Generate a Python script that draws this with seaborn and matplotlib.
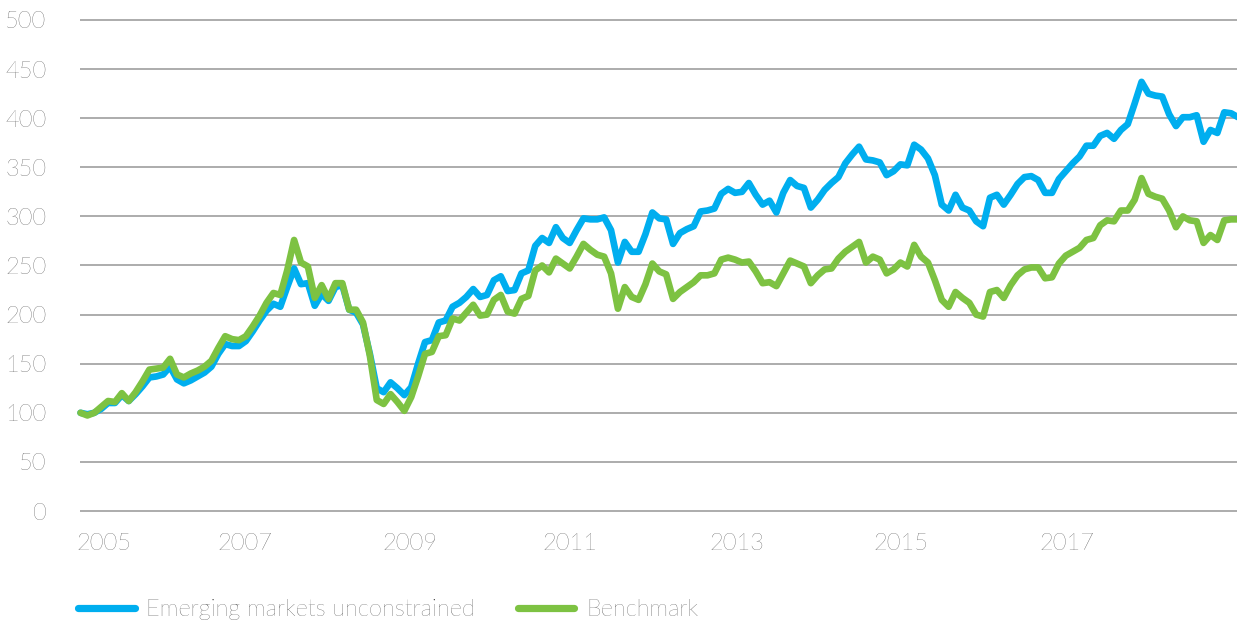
import numpy as np
import pandas as pd
import matplotlib
matplotlib.use("Agg")
import matplotlib.pyplot as plt
import seaborn as sns

# ---------------- data (monthly index values, base 100) ----------------
emerging = [
    100, 98.5, 100, 104, 110, 110, 118, 112, 119, 127,
    136, 137, 139, 147, 134, 130, 133, 137, 141, 147,
    160, 170, 168, 168, 173, 183, 194, 204, 211, 208,
    228, 247, 231, 232, 209, 221, 214, 228, 230, 205,
    202, 190, 160, 125, 121, 131, 125, 118, 126, 150,
    172, 174, 192, 194, 208, 212, 218, 226, 218, 220,
    235, 239, 224, 225, 242, 245, 270, 278, 273, 289,
    278, 273, 286, 298, 297, 297, 299, 286, 253, 274,
    264, 264, 282, 304, 298, 297, 272, 283, 287, 290,
    305, 306, 308, 323, 328, 324, 325, 334, 322, 312,
    316, 304, 324, 337, 331, 329, 309, 317, 327, 334,
    340, 354, 363, 371, 358, 357, 355, 342, 346, 353,
    352, 373, 368, 359, 342, 312, 306, 322, 309, 306,
    295, 290, 319, 322, 312, 322, 333, 340, 341, 337,
    324, 324, 338, 346, 354, 361, 372, 372, 382, 385,
    379, 388, 394, 415, 437, 425, 423, 422, 404, 392,
    401, 401, 403, 376, 388, 385, 406, 405, 401,
]
benchmark = [
    100, 97.3, 100, 106, 112, 111, 120, 112, 121, 132,
    144, 145, 146, 155, 139, 136, 140, 143, 147, 153,
    166, 178, 175, 174, 178, 188, 199, 212, 222, 220,
    245, 276, 253, 249, 217, 230, 216, 232, 232, 205,
    205, 192, 158, 113, 109, 119, 111, 102, 116, 137,
    160, 162, 178, 179, 196, 194, 202, 210, 199, 200,
    215, 220, 203, 201, 216, 219, 245, 250, 243, 257,
    252, 247, 259, 272, 266, 261, 259, 242, 206, 228,
    218, 215, 231, 252, 244, 241, 216, 223, 228, 233,
    240, 240, 242, 256, 258, 256, 253, 254, 244, 232,
    233, 229, 242, 255, 252, 249, 232, 240, 246, 247,
    257, 264, 269, 274, 253, 259, 256, 242, 246, 253,
    249, 271, 259, 253, 235, 215, 208, 223, 217, 212,
    200, 198, 223, 225, 217, 230, 240, 246, 248, 248,
    237, 238, 252, 260, 264, 268, 276, 278, 291, 296,
    295, 306, 306, 317, 339, 323, 320, 318, 306, 289,
    300, 296, 295, 273, 281, 276, 296, 297, 297,
]
series_names = ["Emerging markets unconstrained", "Benchmark"]
year_labels = ["2005", "2007", "2009", "2011", "2013", "2015", "2017"]
y_ticks = list(range(0, 501, 50))

# ---------------- build long-form table ----------------
n = len(emerging)
months = np.arange(n)
df = pd.DataFrame({
    "month": np.concatenate([months, months]),
    "value": np.array(emerging + benchmark, dtype=float),
    "series": [series_names[0]] * n + [series_names[1]] * n,
})

# ---------------- style ----------------
sns.set_style("white")
plt.rcParams["font.family"] = ["Lato", "DejaVu Sans"]
plt.rcParams["font.weight"] = "light"

BLUE = "#00AEEF"
GREEN = "#7DC242"
GRID = "#A6A6A6"
TEXT = "#262626"
FS = 17

W, H = 1237, 623
fig = plt.figure(figsize=(W / 100, H / 100), dpi=100)
fig.patch.set_facecolor("white")

# axes geometry (pixels): x grid from 80 to right edge, y 0..500 between px 511 and 20
ylo, yhi = -5, 505
px_per_unit = (511 - 20) / 500
bottom_px = 511 + (0 - ylo) * px_per_unit
top_px = 20 - (yhi - 500) * px_per_unit
ax = fig.add_axes([80 / W, 1 - bottom_px / H, (W - 80) / W, (bottom_px - top_px) / H])
ax.set_facecolor("white")

sns.lineplot(
    data=df, x="month", y="value", hue="series",
    palette=[BLUE, GREEN], hue_order=series_names,
    linewidth=4.8, ax=ax, sort=False, errorbar=None,
    solid_capstyle="round", solid_joinstyle="round",
    zorder=3,
)
for ln in ax.get_lines():
    ln.set_clip_on(False)

step_px = 6.89
x0_px = 80.5
ax.set_xlim((80 - x0_px) / step_px, (W - x0_px) / step_px)
ax.set_ylim(ylo, yhi)

ax.set_yticks(y_ticks)
ax.set_yticklabels([str(v) for v in y_ticks])
tick_pos_px = [104, 245, 410, 570, 737, 901, 1067]
ax.set_xticks([(p - x0_px) / step_px for p in tick_pos_px])
ax.set_xticklabels(year_labels)

ax.grid(axis="y", color=GRID, linewidth=1.3)
ax.grid(axis="x", visible=False)
ax.set_axisbelow(True)
for s in ax.spines.values():
    s.set_visible(False)
ax.tick_params(axis="both", length=0, labelsize=FS, colors=TEXT)
ax.tick_params(axis="y", pad=24)
ax.tick_params(axis="x", pad=12)
ax.set_xlabel("")
ax.set_ylabel("")

# legend
handles = ax.get_lines()[:2]
if ax.get_legend() is not None:
    ax.get_legend().remove()
leg = ax.legend(
    handles=handles, labels=series_names, ncol=2, frameon=False,
    loc="center left", bbox_to_anchor=(78 / W, 1 - 610 / H),
    bbox_transform=fig.transFigure, borderpad=0, borderaxespad=0,
    handlelength=2.4, handletextpad=0.5, columnspacing=1.8,
    prop={"size": FS, "weight": "light"},
)
for t in leg.get_texts():
    t.set_color(TEXT)
for h in leg.legend_handles:
    h.set_linewidth(5.2)
    h.set_solid_capstyle("round")

fig.savefig("out.png", dpi=100, facecolor="white")
